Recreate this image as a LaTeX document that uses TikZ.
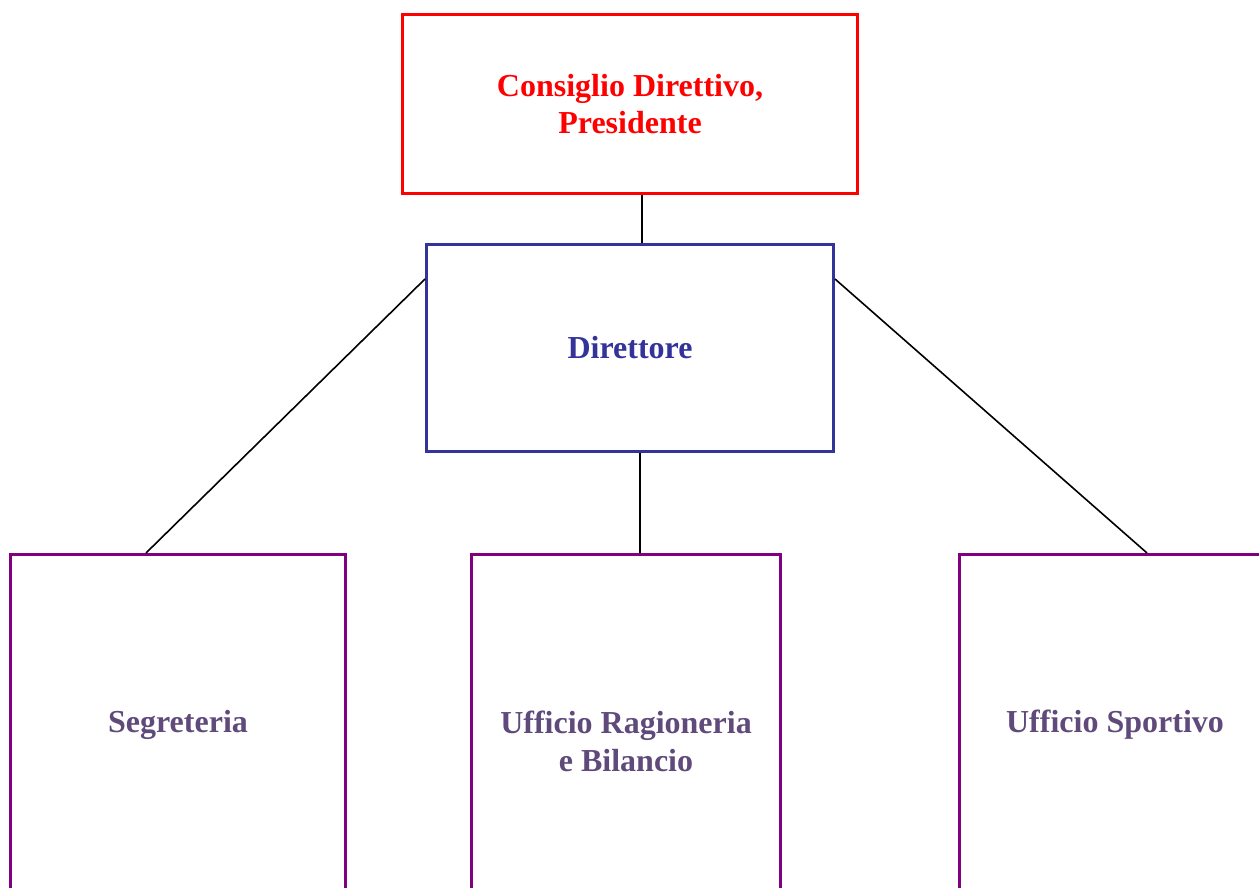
\documentclass[tikz,border=0pt]{standalone}
\usepackage{xcolor}
\usepackage{fontspec}
\setmainfont{Liberation Serif}
\usepackage{tikz}
\usetikzlibrary{positioning, calc}

\definecolor{boardred}{HTML}{FF0000}
\definecolor{directorblue}{HTML}{333399}
\definecolor{officeline}{HTML}{800080}
\definecolor{officetext}{HTML}{604A7B}

\begin{document}
\begin{tikzpicture}[x=0.75pt, y=-0.75pt]
			\tikzstyle{board}=[draw=boardred, line width=2.25pt, minimum width=341.25pt, minimum height=134.25pt, text=boardred, align=center, font=\fontsize{24}{28}\selectfont\bfseries]
			\tikzstyle{director}=[draw=directorblue, line width=2.25pt, minimum width=305.25pt, minimum height=155.25pt, text=directorblue, font=\fontsize{24}{28}\selectfont\bfseries]
			\tikzstyle{office}=[draw=officeline, line width=2.25pt, minimum height=255pt, text=officetext, align=center, anchor=north, font=\fontsize{24}{28}\selectfont\bfseries]
			\tikzstyle{link}=[draw=black, line width=1.2pt]
			
			\useasboundingbox (0,0) rectangle (1259,888);
			
			\node (consiglio) at (630,104) [board] {Consiglio Direttivo,\\Presidente};
			\node (direttore) at (630,348) [director] {Direttore};
			
			\node (segreteria) at (178,553) [office, minimum width=251.25pt] {Segreteria};
			\node (ragioneria) at (626,553) [office, minimum width=231.75pt, minimum height=280.5pt] {Ufficio Ragioneria\\e Bilancio};
			\node (sportivo) at (1115,553) [office, minimum width=233.25pt] {Ufficio Sportivo};
			
			% collegamenti
			\draw [link] ([xshift=9pt]consiglio.south) -- ([xshift=9pt]consiglio.south |- direttore.north);
			\draw [link] ([yshift=-27pt]direttore.north west) -- ([xshift=102.75pt]segreteria.north west);
			\draw [link] ([xshift=7.5pt]direttore.south) -- ([xshift=7.5pt]direttore.south |- ragioneria.north);
			\draw [link] ([yshift=-27pt]direttore.north east) -- ([xshift=141.75pt]sportivo.north west);
			
\end{tikzpicture}
\end{document}
